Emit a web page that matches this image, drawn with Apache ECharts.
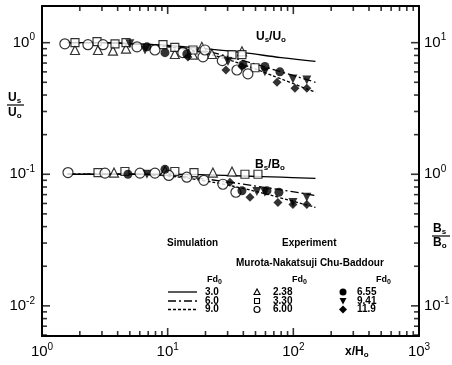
<!DOCTYPE html>
<html>
<head>
<meta charset="utf-8">
<script src="https://cdn.jsdelivr.net/npm/echarts@6/dist/echarts.min.js"></script>
<style>
  html, body { margin: 0; padding: 0; background: #fff; }
  #chart { width: 452px; height: 365px; }
  #dbg { position: absolute; left: 60px; top: 190px; font: 10px monospace; color: red; width: 380px; }
</style>
</head>
<body>
<div id="chart"></div>
<div id="dbg"></div>
<script>
  var dbg = document.getElementById('dbg')
  window.onerror = function (m) { dbg.textContent += ' ERR ' + m }

  // axis ranges (right axis is the left one times 10)
  var xRange = [1, 1000]
  var yRange = [0.0059, 1.9]
  var y2Range = [0.059, 19]
  var xMajor = [1, 10, 100, 1000]
  var yMajor = [0.01, 0.1, 1]
  var y2Major = [0.1, 1, 10]

  // simulation curves, Fd0 = 3.0 / 6.0 / 9.0
  var simX = [1.6, 3, 5, 10, 20, 40, 80, 150]
  var us30 = [1.0, 1.0, 0.985, 0.955, 0.90, 0.84, 0.77, 0.72]
  var us60 = [1.0, 1.0, 0.98, 0.94, 0.86, 0.73, 0.60, 0.50]
  var us90 = [1.0, 1.0, 0.98, 0.93, 0.83, 0.68, 0.53, 0.42]
  var bs30 = [1.0, 1.0, 1.0, 1.0, 0.99, 0.97, 0.95, 0.93]
  var bs60 = [1.0, 1.0, 1.0, 0.98, 0.92, 0.84, 0.76, 0.69]
  var bs90 = [1.0, 1.0, 1.0, 0.97, 0.89, 0.78, 0.66, 0.56]

  // experiments, Us/U0 (left axis)
  var usTri = [[1.83, 0.88], [2.79, 0.88], [3.67, 0.87], [4.66, 0.90], [11.4, 0.82], [15.9, 0.81], [18.7, 0.93], [22.5, 0.82], [39, 0.86]]
  var usSq = [[1.83, 1.0], [2.74, 1.02], [3.81, 0.98], [4.66, 1.0], [9.18, 0.965], [11.4, 0.92], [15.9, 0.88], [32.5, 0.81], [39, 0.81], [49.5, 0.645]]
  var usCirc = [[1.52, 0.98], [2.32, 0.965], [3.06, 0.965], [5.7, 0.93], [7.92, 0.88], [13.2, 0.84], [19.1, 0.78], [19.8, 0.88], [27.2, 0.73], [35.6, 0.62], [43.5, 0.58]]
  var usDot = [[6.84, 0.93], [9.52, 0.84], [14.2, 0.82], [39.7, 0.68], [59.4, 0.66], [78.2, 0.6]]
  var usDown = [[5.0, 0.98], [6.6, 0.88], [30.2, 0.72], [59.4, 0.6], [99.3, 0.53], [128, 0.52]]
  var usDiam = [[14.5, 0.78], [29.1, 0.62], [39, 0.66], [74.1, 0.5], [103, 0.45], [128, 0.45]]

  // experiments, Bs/B0 (right axis)
  var bsTri = [[3.74, 1.03], [9.52, 1.06], [22.9, 1.03], [32.5, 1.05]]
  var bsSq = [[2.79, 1.03], [4.57, 1.05], [11.4, 1.05], [16.2, 1.03], [41.2, 1.0], [52.3, 1.0]]
  var bsCirc = [[1.61, 1.03], [3.17, 1.02], [6.02, 1.02], [7.92, 1.02], [10.2, 0.98], [14.2, 0.95], [19.4, 0.9], [27.5, 0.84], [34.9, 0.73]]
  var bsDot = [[4.83, 1.0], [9.52, 1.09], [39, 0.75], [61.7, 0.75], [76.8, 0.73]]
  var bsDown = [[6.84, 1.0], [51.3, 0.74], [59.4, 0.73], [99.3, 0.61], [128, 0.67]]
  var bsDiam = [[31.3, 0.87], [45.2, 0.67], [75.4, 0.61], [99.3, 0.59], [128, 0.59]]

  var FONT = 'Liberation Sans, Arial, sans-serif'

  // log ticks 1..9 in each decade
  function logTicks(lo, hi) {
    var out = []
    for (var d = lo; d < hi * 0.999; d *= 10) {
      for (var k = 1; k < 10; k++) {
        var v = +(k * d).toPrecision(6)
        if (v >= lo && v <= hi) out.push(v)
      }
    }
    out.push(hi)
    return out
  }
  var xTicks = logTicks(1, 1000)
  var yTicks = logTicks(0.001, 1).filter(function (v) { return v >= yRange[0] })
  var y2Ticks = logTicks(0.01, 10).filter(function (v) { return v >= y2Range[0] })

  function isMajor(list, v) {
    return list.some(function (m) { return Math.abs(m - v) / m < 1e-6 })
  }

  function powLabel(v) {
    var l = Math.log10(v)
    var e = Math.round(l)
    if (Math.abs(l - e) > 1e-6) return ''
    return '{b|10}{s|' + e + '}'
  }
  var powRich = {
    b: {fontSize: 15, fontFamily: FONT, color: '#000', lineHeight: 20},
    s: {fontSize: 10, fontFamily: FONT, color: '#000', lineHeight: 6, verticalAlign: 'top'}
  }

  function simSeries(vals, yIdx, dash) {
    return {
      type: 'line', yAxisIndex: yIdx, smooth: 0.4, showSymbol: false, silent: true, z: 2,
      data: simX.map(function (x, i) { return [x, vals[i]] }),
      lineStyle: {color: '#000', width: 1.3, type: dash}
    }
  }

  function expSeries(data, yIdx, symbol, size, filled, rotate) {
    return {
      type: 'scatter', yAxisIndex: yIdx, data: data, symbol: symbol, symbolSize: size,
      symbolRotate: rotate || 0, silent: true, z: 3,
      itemStyle: {color: filled ? '#000' : '#fff', borderColor: '#000', borderWidth: filled ? 0 : 1.2}
    }
  }

  // inward tick marks drawn as thin rect symbols sitting on the frame
  function tickSeries(yIdx, data, vertical, dir) {
    return {
      type: 'scatter', yAxisIndex: yIdx, silent: true, clip: false, z: 5,
      symbol: 'rect',
      data: data.map(function (d) {
        var len = d.major ? 8 : 5
        return {
          value: d.value,
          symbolSize: vertical ? [1.6, len] : [len, 1.6],
          symbolOffset: vertical ? [0, dir * len / 2] : [dir * len / 2, 0]
        }
      }),
      itemStyle: {color: '#000', borderWidth: 0}
    }
  }
  var xBottomTicks = xTicks.map(function (v) { return {value: [v, yRange[0]], major: isMajor(xMajor, v)} })
  var xTopTicks = xTicks.map(function (v) { return {value: [v, yRange[1]], major: isMajor(xMajor, v)} })
  var yLeftTicks = yTicks.map(function (v) { return {value: [xRange[0], v], major: isMajor(yMajor, v)} })
  var yRightTicks = y2Ticks.map(function (v) { return {value: [xRange[1], v], major: isMajor(y2Major, v)} })

  var axisLine = {show: true, lineStyle: {color: '#000', width: 2}}

  // small text helpers for the graphic layer
  function txt(x, y, text, size, align, rich) {
    return {
      type: 'text', x: x, y: y, silent: true,
      style: {text: text, fill: '#000', font: 'bold ' + size + 'px ' + FONT, textAlign: align || 'left', textVerticalAlign: 'middle', rich: rich}
    }
  }
  var subRich = {
    m: {fontSize: 12, fontFamily: FONT, fontWeight: 'bold', lineHeight: 14},
    u: {fontSize: 8, fontFamily: FONT, fontWeight: 'bold', lineHeight: 8, verticalAlign: 'bottom'}
  }
  var fdRich = {
    m: {fontSize: 9, fontFamily: FONT, fontWeight: 'bold', lineHeight: 12},
    u: {fontSize: 7, fontFamily: FONT, fontWeight: 'bold', lineHeight: 5, verticalAlign: 'bottom'}
  }
  function hline(x1, x2, y, dash, w) {
    return {type: 'line', silent: true, shape: {x1: x1, y1: y, x2: x2, y2: y}, style: {stroke: '#000', lineWidth: w || 1.3, lineDash: dash}}
  }

  var rowY = [292, 301, 309.5]
  var graphics = [
    txt(256, 37, '{m|U}{u|s}{m|/U}{u|o}', 12, 'left', subRich),
    txt(255, 165, '{m|B}{u|s}{m|/B}{u|o}', 12, 'left', subRich),
    txt(345, 352, '{m|x/H}{u|o}', 12, 'left', subRich),
    txt(8, 98, '{m|U}{u|s}', 12, 'left', subRich),
    hline(7, 24, 105, null, 1.2),
    txt(8, 113, '{m|U}{u|o}', 12, 'left', subRich),
    txt(433, 229, '{m|B}{u|s}', 12, 'left', subRich),
    hline(432, 450, 236, null, 1.2),
    txt(433, 243, '{m|B}{u|o}', 12, 'left', subRich),
    txt(167, 243, 'Simulation', 10),
    txt(282, 243, 'Experiment', 10),
    txt(236, 263, 'Murota-Nakatsuji Chu-Baddour', 10),
    txt(207, 280, '{m|Fd}{u|0}', 9, 'left', fdRich),
    txt(292, 280, '{m|Fd}{u|0}', 9, 'left', fdRich),
    txt(376, 280, '{m|Fd}{u|0}', 9, 'left', fdRich),
    hline(168, 197, rowY[0], null),
    hline(168, 197, rowY[1], [8, 3, 2, 3]),
    hline(168, 197, rowY[2], [3, 2]),
    txt(205, rowY[0], '3.0', 10),
    txt(205, rowY[1], '6.0', 10),
    txt(205, rowY[2], '9.0', 10),
    {type: 'polygon', silent: true, shape: {points: [[257, rowY[0] - 3], [254, rowY[0] + 2.5], [260, rowY[0] + 2.5]]}, style: {fill: '#fff', stroke: '#000', lineWidth: 1.1}},
    {type: 'rect', silent: true, shape: {x: 254.5, y: rowY[1] - 2.5, width: 5, height: 5}, style: {fill: '#fff', stroke: '#000', lineWidth: 1.1}},
    {type: 'circle', silent: true, shape: {cx: 257, cy: rowY[2], r: 3}, style: {fill: '#fff', stroke: '#000', lineWidth: 1.1}},
    txt(273, rowY[0], '2.38', 10),
    txt(273, rowY[1], '3.30', 10),
    txt(273, rowY[2], '6.00', 10),
    {type: 'circle', silent: true, shape: {cx: 343, cy: rowY[0], r: 3.5}, style: {fill: '#000'}},
    {type: 'polygon', silent: true, shape: {points: [[339.5, rowY[1] - 3], [346.5, rowY[1] - 3], [343, rowY[1] + 3.5]]}, style: {fill: '#000'}},
    {type: 'polygon', silent: true, shape: {points: [[343, rowY[2] - 4], [347, rowY[2]], [343, rowY[2] + 4], [339, rowY[2]]]}, style: {fill: '#000'}},
    txt(357, rowY[0], '6.55', 10),
    txt(357, rowY[1], '9.41', 10),
    txt(357, rowY[2], '11.9', 10)
  ]

  try {
    var chart = echarts.init(document.getElementById('chart'), null, {renderer: 'canvas'})
    chart.setOption({
      animation: false,
      backgroundColor: '#fff',
      grid: {left: 42, top: 6, width: 377, height: 330, containLabel: false, outerBoundsMode: 'none'},
      xAxis: [
        {
          type: 'log', logBase: 10, min: xRange[0], max: xRange[1], position: 'bottom',
          axisLine: axisLine, axisTick: {show: false}, splitLine: {show: false},
          axisLabel: {margin: 6, formatter: powLabel, rich: powRich, showMinLabel: true, showMaxLabel: true}
        },
        {
          type: 'log', logBase: 10, min: xRange[0], max: xRange[1], position: 'top',
          axisLine: axisLine, axisTick: {show: false}, splitLine: {show: false}, axisLabel: {show: false}
        }
      ],
      yAxis: [
        {
          type: 'log', logBase: 10, min: yRange[0], max: yRange[1], position: 'left',
          axisLine: axisLine, axisTick: {show: false}, splitLine: {show: false},
          axisLabel: {margin: 7, formatter: powLabel, rich: powRich, showMinLabel: false, showMaxLabel: false}
        },
        {
          type: 'log', logBase: 10, min: y2Range[0], max: y2Range[1], position: 'right',
          axisLine: axisLine, axisTick: {show: false}, splitLine: {show: false},
          axisLabel: {margin: 5, formatter: powLabel, rich: powRich, showMinLabel: false, showMaxLabel: false}
        }
      ],
      graphic: graphics,
      series: [
        tickSeries(0, xBottomTicks, true, -1),
        tickSeries(0, xTopTicks, true, 1),
        tickSeries(0, yLeftTicks, false, 1),
        tickSeries(1, yRightTicks, false, -1),
        simSeries(us30, 0, 'solid'),
        simSeries(us60, 0, [8, 3, 2, 3]),
        simSeries(us90, 0, [3, 2]),
        simSeries(bs30, 1, 'solid'),
        simSeries(bs60, 1, [8, 3, 2, 3]),
        simSeries(bs90, 1, [3, 2]),
        expSeries(usTri, 0, 'triangle', 9, false),
        expSeries(usSq, 0, 'rect', 8, false),
        expSeries(usCirc, 0, 'circle', 10, false),
        expSeries(usDot, 0, 'circle', 9, true),
        expSeries(usDown, 0, 'triangle', 9, true, 180),
        expSeries(usDiam, 0, 'diamond', 9, true),
        expSeries(bsTri, 1, 'triangle', 9, false),
        expSeries(bsSq, 1, 'rect', 8, false),
        expSeries(bsCirc, 1, 'circle', 10, false),
        expSeries(bsDot, 1, 'circle', 9, true),
        expSeries(bsDown, 1, 'triangle', 9, true, 180),
        expSeries(bsDiam, 1, 'diamond', 9, true)
      ]
    })
  } catch (e) {
    dbg.textContent += ' CATCH ' + e.message
  }
</script>
</body>
</html>
